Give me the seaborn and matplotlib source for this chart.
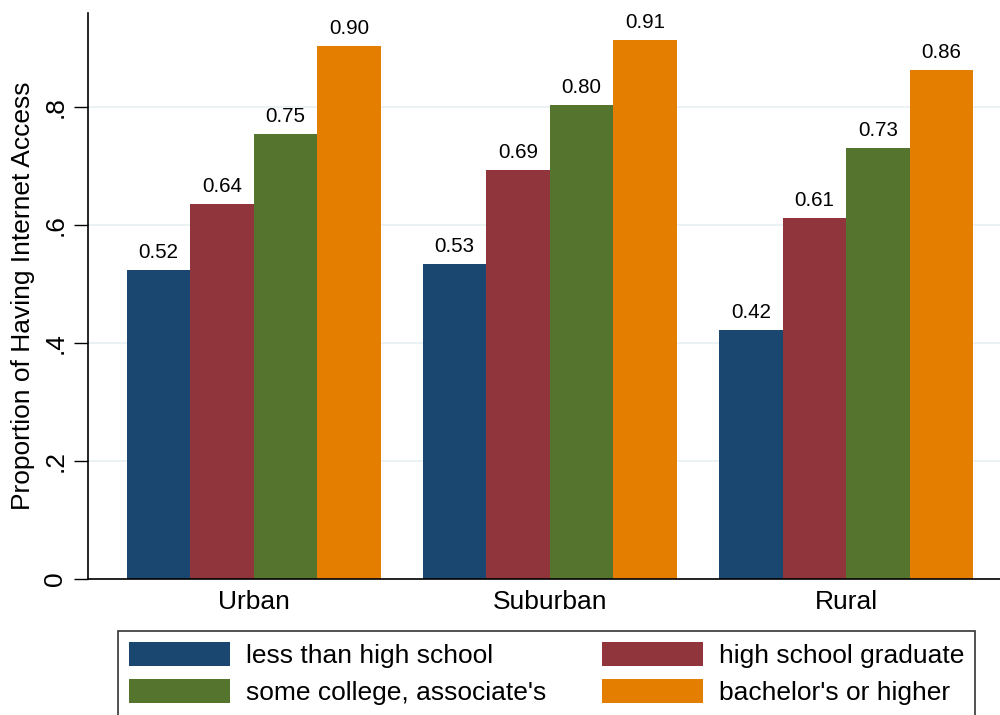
import numpy as np
import pandas as pd
import matplotlib
matplotlib.use("Agg")
import matplotlib.pyplot as plt
import seaborn as sns

# ---- data ----
areas = ["Urban", "Suburban", "Rural"]
edu_levels = ["less than high school", "high school graduate",
              "some college, associate's", "bachelor's or higher"]
urban = [0.524, 0.636, 0.754, 0.903]
suburban = [0.534, 0.693, 0.804, 0.914]
rural = [0.422, 0.612, 0.731, 0.863]
colors = ["#1a476f", "#90353b", "#55752f", "#e37e00"]

rows = []
for area, vals in zip(areas, [urban, suburban, rural]):
    for edu, v in zip(edu_levels, vals):
        rows.append({"area": area, "edu": edu, "prop": v})
df = pd.DataFrame(rows)

sns.set_style("white")
plt.rcParams["font.family"] = ["Liberation Sans", "DejaVu Sans"]
plt.rcParams["text.color"] = "black"
plt.rcParams["axes.labelcolor"] = "black"
plt.rcParams["xtick.color"] = "black"
plt.rcParams["ytick.color"] = "black"

fig = plt.figure(figsize=(10, 7.15), dpi=100)
ax = fig.add_axes([0.088, 0.19, 0.912, 0.792])

sns.barplot(data=df, x="area", y="prop", hue="edu", order=areas,
            hue_order=edu_levels, palette=colors, saturation=1,
            width=0.858, ax=ax, legend=False, linewidth=0, edgecolor="none")

for c in ax.containers:
    ax.bar_label(c, fmt="%.2f", padding=6, fontsize=14.8, color="black")

ax.set_ylim(0, 0.96)
ax.set_xlim(-0.56, 2.52)
ax.set_yticks([0, 0.2, 0.4, 0.6, 0.8])
ax.set_yticklabels(["0", ".2", ".4", ".6", ".8"], rotation=90, va="center",
                   fontsize=19)
ax.tick_params(axis="y", left=True, length=10, width=1, color="black",
               labelcolor="black", pad=5)
ax.tick_params(axis="x", bottom=False, length=0, labelsize=19,
               labelcolor="black", pad=8)
ax.yaxis.grid(True, color="#eaf2f3", linewidth=1.4)
ax.set_axisbelow(True)
ax.set_xlabel("")
ax.set_ylabel("Proportion of Having Internet Access", fontsize=19,
              labelpad=6, color="black")
for side in ["top", "right"]:
    ax.spines[side].set_visible(False)
for side in ["left", "bottom"]:
    ax.spines[side].set_color("black")
    ax.spines[side].set_linewidth(1.2)

# legend filled row by row, like the reference
order = [0, 2, 1, 3]
handles = [plt.Rectangle((0, 0), 1, 1, facecolor=colors[i], edgecolor="none") for i in order]
labels = [edu_levels[i] for i in order]
leg = fig.legend(handles, labels, ncol=2, loc="upper left",
                 bbox_to_anchor=(0.118, 1 - 631 / 715), bbox_transform=fig.transFigure,
                 fontsize=19, handlelength=3.83, handleheight=1.02,
                 columnspacing=2.1, handletextpad=0.6, labelspacing=0.42,
                 frameon=True, fancybox=False, borderpad=0.42, borderaxespad=0)
leg.get_frame().set_edgecolor("black")
leg.get_frame().set_linewidth(1.2)
for t in leg.get_texts():
    t.set_color("black")

fig.savefig("out.png", dpi=100)
